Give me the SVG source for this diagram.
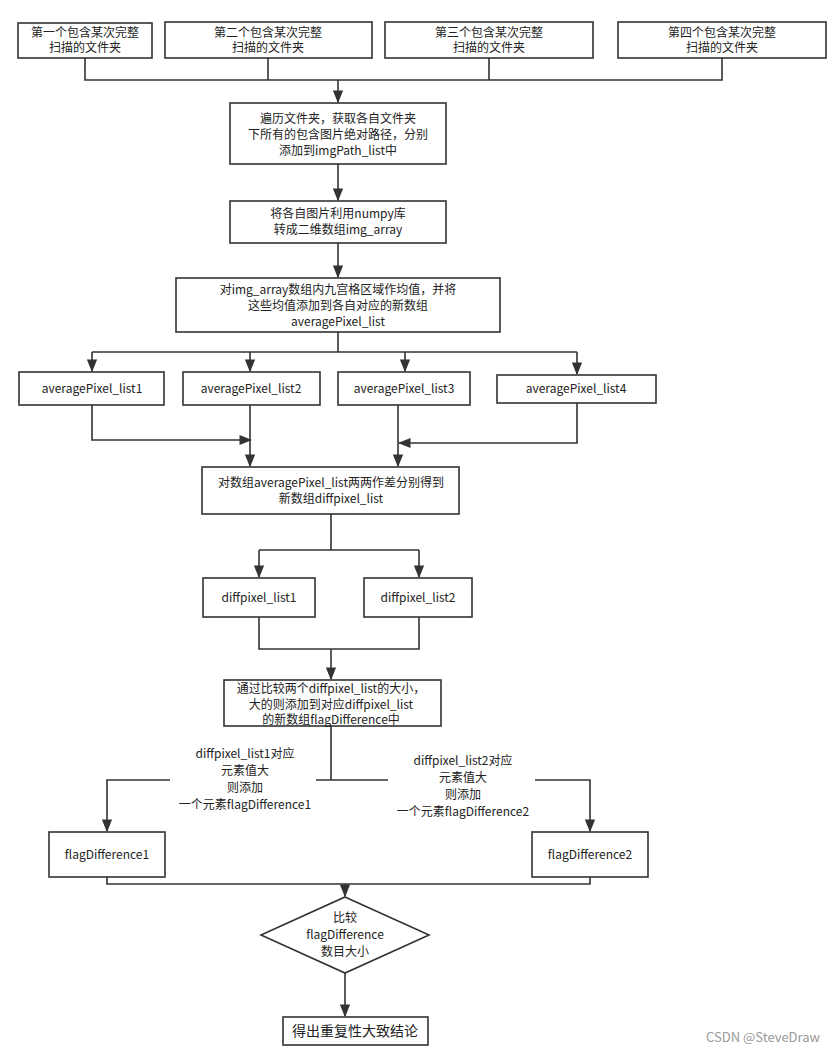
<svg xmlns="http://www.w3.org/2000/svg" width="834" height="1052" viewBox="0 0 834 1052">
<style>
.n rect,polygon{fill:#fff;stroke:#333;stroke-width:1.6}
.c path{fill:none;stroke:#333;stroke-width:1.6}
text{font-family:"Noto Sans CJK SC","Liberation Sans",sans-serif;font-size:12px;fill:#222;text-anchor:middle}
</style>
<defs><marker id="a" viewBox="0 0 10 10" refX="9" refY="5" markerWidth="8" markerHeight="8" orient="auto"><path d="M0,1 L10,5 L0,9 z" fill="#333"/></marker></defs>
<rect width="834" height="1052" fill="#fff"/>
<g class="c">
<path d="M85,58V80H722V58M268,58V80M489,58V80"/>
<path d="M338,80V102" marker-end="url(#a)"/>
<path d="M338,164V200" marker-end="url(#a)"/>
<path d="M338,243V277" marker-end="url(#a)"/>
<path d="M338,332V352M92,352H577"/>
<path d="M92,352V371" marker-end="url(#a)"/><path d="M250,352V371" marker-end="url(#a)"/><path d="M405,352V371" marker-end="url(#a)"/><path d="M577,352V374" marker-end="url(#a)"/>
<path d="M92,405V440H251" marker-end="url(#a)"/>
<path d="M250,405V466" marker-end="url(#a)"/>
<path d="M398,405V466" marker-end="url(#a)"/>
<path d="M577,403V443H399" marker-end="url(#a)"/>
<path d="M331,514V550M259,550H419"/>
<path d="M259,550V577" marker-end="url(#a)"/><path d="M419,550V577" marker-end="url(#a)"/>
<path d="M259,617V649H419V617"/>
<path d="M331,649V679" marker-end="url(#a)"/>
<path d="M331,726V780M316,780H388"/>
<path d="M170,780H107V831" marker-end="url(#a)"/>
<path d="M535,780H590V831" marker-end="url(#a)"/>
<path d="M107,877V884H590V877"/>
<path d="M345,884V896" marker-end="url(#a)"/>
<path d="M345,973V1016" marker-end="url(#a)"/>
</g>
<g class="n">
<g id="f1"><rect x="18" y="23" width="134" height="35"/><text x="85" y="37">第一个包含某次完整</text><text x="85" y="52">扫描的文件夹</text></g>
<g id="f2"><rect x="165" y="22" width="207" height="36"/><text x="268" y="37">第二个包含某次完整</text><text x="268" y="52">扫描的文件夹</text></g>
<g id="f3"><rect x="385" y="22" width="208" height="36"/><text x="489" y="37">第三个包含某次完整</text><text x="489" y="52">扫描的文件夹</text></g>
<g id="f4"><rect x="618" y="22" width="208" height="36"/><text x="722" y="37">第四个包含某次完整</text><text x="722" y="52">扫描的文件夹</text></g>
<g id="n1"><rect x="230" y="103" width="216" height="61"/><text x="338" y="123">遍历文件夹，获取各自文件夹</text><text x="338" y="139">下所有的包含图片绝对路径，分别</text><text x="338" y="155">添加到imgPath_list中</text></g>
<g id="n2"><rect x="230" y="201" width="216" height="42"/><text x="338" y="218">将各自图片利用numpy库</text><text x="338" y="234">转成二维数组img_array</text></g>
<g id="n3"><rect x="176" y="278" width="324" height="54"/><text x="338" y="294">对img_array数组内九宫格区域作均值，并将</text><text x="338" y="310">这些均值添加到各自对应的新数组</text><text x="338" y="326">averagePixel_list</text></g>
<g id="a1"><rect x="19" y="372" width="145" height="33"/><text x="92" y="393">averagePixel_list1</text></g>
<g id="a2"><rect x="183" y="372" width="137" height="33"/><text x="251" y="393">averagePixel_list2</text></g>
<g id="a3"><rect x="338" y="372" width="132" height="33"/><text x="404" y="393">averagePixel_list3</text></g>
<g id="a4"><rect x="497" y="375" width="159" height="28"/><text x="576" y="393">averagePixel_list4</text></g>
<g id="n4"><rect x="202" y="467" width="257" height="47"/><text x="331" y="487">对数组averagePixel_list两两作差分别得到</text><text x="331" y="503">新数组diffpixel_list</text></g>
<g id="d1"><rect x="203" y="578" width="112" height="39"/><text x="259" y="602">diffpixel_list1</text></g>
<g id="d2"><rect x="364" y="578" width="108" height="39"/><text x="418" y="602">diffpixel_list2</text></g>
<g id="n5"><rect x="224" y="680" width="217" height="46"/><text x="331" y="693">通过比较两个diffpixel_list的大小，</text><text x="331" y="709">大的则添加到对应diffpixel_list</text><text x="331" y="724">的新数组flagDifference中</text></g>
<g id="l1"><text x="245" y="758">diffpixel_list1对应</text><text x="245" y="775">元素值大</text><text x="245" y="792">则添加</text><text x="245" y="809">一个元素flagDifference1</text></g>
<g id="l2"><text x="463" y="765">diffpixel_list2对应</text><text x="463" y="782">元素值大</text><text x="463" y="799">则添加</text><text x="463" y="816">一个元素flagDifference2</text></g>
<g id="g1"><rect x="49" y="832" width="116" height="45"/><text x="107" y="859">flagDifference1</text></g>
<g id="g2"><rect x="532" y="832" width="116" height="45"/><text x="590" y="859">flagDifference2</text></g>
<g id="dm"><polygon points="345,897 429,935 345,973 261,935"/><text x="345" y="922">比较</text><text x="345" y="939">flagDifference</text><text x="345" y="956">数目大小</text></g>
<g id="end"><rect x="283" y="1017" width="145" height="28"/><text x="355" y="1036" style="font-size:14px">得出重复性大致结论</text></g>
</g>
<text x="820" y="1042" style="text-anchor:end;fill:#999;font-size:13px">CSDN @SteveDraw</text>
</svg>
